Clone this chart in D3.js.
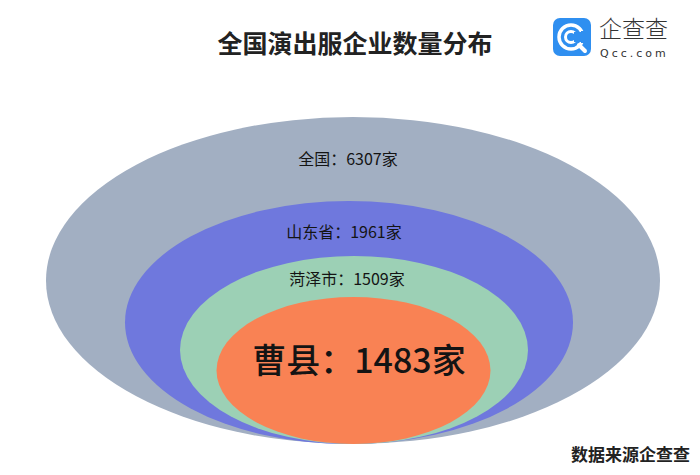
<!DOCTYPE html>
<html><head><meta charset="utf-8">
<script src="https://cdn.jsdelivr.net/npm/d3@7/dist/d3.min.js"></script>
<style>
html,body{margin:0;padding:0;background:#fff;}
svg{display:block;font-family:"Noto Sans CJK SC","Noto Sans",sans-serif;}
</style></head>
<body><svg id="c" width="700" height="475"></svg>
<script>
const title = "全国演出服企业数量分布";
const regions = ["全国", "山东省", "菏泽市", "曹县"];
const counts = [6307, 1961, 1509, 1483];
const unit = "家";
const colors = ["#a2afc2", "#6f78dd", "#9cd0b5", "#f98254"];
const source = "数据来源企查查";

const svg = d3.select("#c");
const W = 700, H = 475;
svg.append("rect").attr("width", W).attr("height", H).attr("fill", "#fff");

// nested ellipses sharing a common bottom point
const bottomY = 444;
const rxScale = d3.scaleOrdinal().domain(regions).range([307, 224, 174, 137]);
const ryScale = d3.scaleOrdinal().domain(regions).range([163.5, 121.5, 94, 73.5]);
const cxScale = d3.scaleOrdinal().domain(regions).range([353, 349, 354, 353.5]);
const color = d3.scaleOrdinal().domain(regions).range(colors);

const data = regions.map((r, i) => ({region: r, count: counts[i]}));

svg.selectAll("ellipse.ring").data(data).join("ellipse")
  .attr("class", "ring")
  .attr("cx", d => cxScale(d.region))
  .attr("cy", d => bottomY - ryScale(d.region))
  .attr("rx", d => rxScale(d.region))
  .attr("ry", d => ryScale(d.region))
  .attr("fill", d => color(d.region));

// labels
const labelY = d3.scaleOrdinal().domain(regions).range([158, 231, 278, 358]);
const labelX = d3.scaleOrdinal().domain(regions).range([348, 344, 347, 359]);
const labelSize = d3.scaleOrdinal().domain(regions).range([16, 16, 16, 34]);
svg.selectAll("text.lab").data(data).join("text")
  .attr("class", "lab")
  .attr("x", d => labelX(d.region))
  .attr("y", d => labelY(d.region))
  .attr("text-anchor", "middle")
  .attr("dominant-baseline", "central")
  .attr("font-size", d => labelSize(d.region))
  .attr("font-weight", d => d.region === "曹县" ? 500 : 400)
  .attr("fill", "#141414")
  .text(d => `${d.region}：${d.count}${unit}`);

// title
svg.append("text").attr("x", 355).attr("y", 42)
  .attr("text-anchor", "middle").attr("dominant-baseline", "central")
  .attr("font-size", 25).attr("font-weight", 700).attr("fill", "#222")
  .text(title);

// source
svg.append("text").attr("x", 690).attr("y", 453)
  .attr("text-anchor", "end").attr("dominant-baseline", "central")
  .attr("font-size", 17).attr("font-weight", 700).attr("fill", "#222")
  .text(source);

// logo
const lg = svg.append("g").attr("transform", "translate(553,18)");
lg.append("rect").attr("width", 38).attr("height", 38).attr("rx", 7).attr("fill", "#2f8ff0");
lg.append("circle").attr("cx", 18).attr("cy", 19).attr("r", 12)
  .attr("fill", "none").attr("stroke", "#fff").attr("stroke-width", 3.5);
lg.append("circle").attr("cx", 18).attr("cy", 19).attr("r", 5.5)
  .attr("fill", "none").attr("stroke", "#fff").attr("stroke-width", 3);
lg.append("line").attr("x1", 26).attr("y1", 27).attr("x2", 32).attr("y2", 33)
  .attr("stroke", "#fff").attr("stroke-width", 4).attr("stroke-linecap", "round");
lg.append("rect").attr("x", 21).attr("y", 14).attr("width", 10).attr("height", 10).attr("fill", "#2f8ff0");
lg.append("rect").attr("x", 28).attr("y", 13).attr("width", 8).attr("height", 12).attr("fill", "#2f8ff0");
svg.append("text").attr("x", 599).attr("y", 37)
  .attr("font-size", 23).attr("font-weight", 300).attr("fill", "#333")
  .text("企查查");
svg.append("text").attr("x", 600).attr("y", 57)
  .attr("font-size", 11).attr("letter-spacing", 3).attr("fill", "#333")
  .attr("font-family", "DejaVu Sans, sans-serif")
  .text("Qcc.com");
</script></body></html>
